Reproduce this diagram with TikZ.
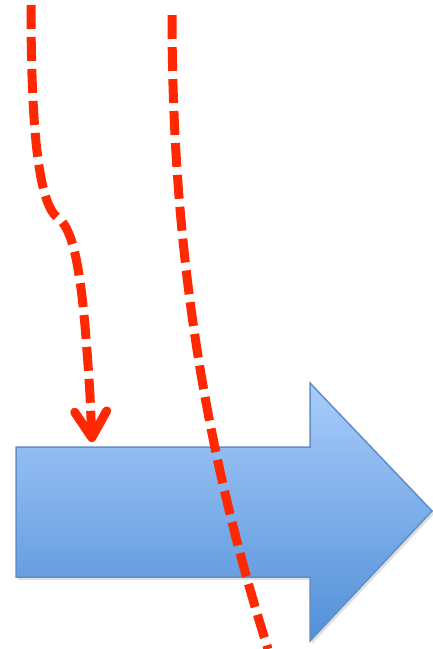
\documentclass[tikz,border=0pt]{standalone}
\usepackage{tikz}
\usetikzlibrary{arrows.meta, calc, positioning}
\definecolor{dashred}{RGB}{255,40,0}
\definecolor{arrowtop}{RGB}{168,204,251}
\definecolor{arrowbottom}{RGB}{82,144,216}
\definecolor{arrowedge}{RGB}{96,142,202}
\tikzset{
	reddash/.style={draw=dashred, line width=9pt, dash pattern=on 24pt off 8pt, line join=round}
}
\tikzset{
	bluearrow/.style={draw=arrowedge, line width=1.5pt, line join=miter, top color=arrowtop, bottom color=arrowbottom}
}

\begin{document}
\begin{tikzpicture}[x=1pt, y=-1pt]
      \useasboundingbox (0,0) rectangle (433,649);
      % block arrow
      \fill[black!25, opacity=0.5] (18,449) -- (312,449) -- (312,385) -- (435,513) -- (312,644) -- (312,580) -- (18,580) -- cycle;
      \draw[bluearrow] (16,447) -- (310,447) -- (310,383) -- (432,511) -- (310,641) -- (310,577) -- (16,577) -- cycle;
      % dashed paths
      \coordinate (start1) at (31,5);
      \coordinate (bend1) at (58,218);
      \coordinate (end1) at (92,442);
      \coordinate (start2) at (172,15);
      \coordinate (end2) at (268,649);
      \draw[reddash, -{Straight Barb[length=26pt, width=32pt, round]}] (start1) .. controls (31,140) and (40,205) .. (bend1) .. controls (78,232) and (84,300) .. (90,395) -- (end1);
      \draw[reddash] (start2) .. controls (172,250) and (205,450) .. (end2);
    \end{tikzpicture}
\end{document}
